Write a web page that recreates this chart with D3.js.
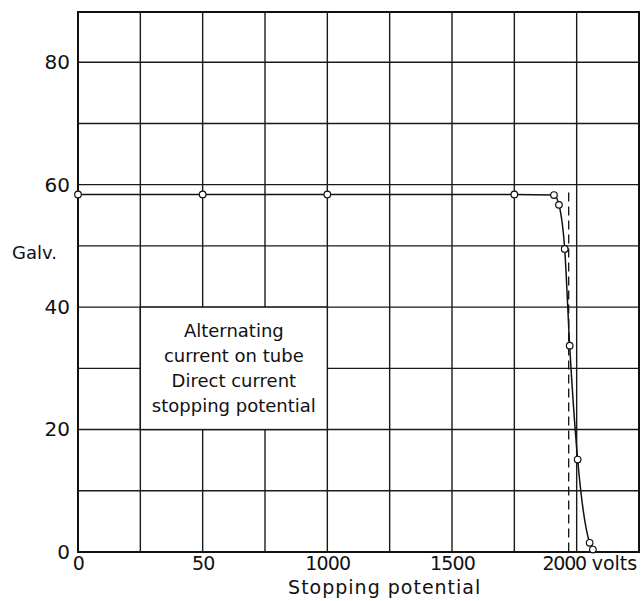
<!DOCTYPE html>
<html>
<head>
<meta charset="utf-8">
<script src="https://cdn.jsdelivr.net/npm/d3@7"></script>
<style>
    body { margin: 0; background: #fff; }
    svg text { font-family: "DejaVu Sans", sans-serif; fill: #111; }
</style>
</head>
<body>
<div id="chart"></div>
<script>
// Readings (volts, galvanometer deflection)
var volts = [0, 500, 1000, 1750, 1909, 1929, 1952, 1972, 2004, 2052, 2065];
var galv = [58.4, 58.4, 58.4, 58.4, 58.3, 56.7, 49.5, 33.7, 15.1, 1.5, 0.4];

// dashed marker for the stopping potential
var cutoffVolts = 1968;
var cutoffTop = 58.7;

var xTickValues = [0, 500, 1000, 1500, 2000];
var xTickLabels = ["0", "50", "1000", "1500", "2000"];
var yTickValues = [0, 20, 40, 60, 80];
var xGrid = [0, 250, 500, 750, 1000, 1250, 1500, 1750, 2000, 2250];
var yGrid = [0, 10, 20, 30, 40, 50, 60, 70, 80];

var legendLines = ["Alternating", "current on tube", "Direct current", "stopping potential"];
var legendBox = { v0: 250, v1: 1000, g0: 20, g1: 40 };

var width = 641, height = 601;
var margin = { top: 12, right: 1, bottom: 49, left: 78 };

var svg = d3.select("#chart").append("svg")
    .attr("width", width)
    .attr("height", height);

var x = d3.scaleLinear()
    .domain([0, 2250])
    .range([margin.left, width - margin.right - 1]);

var y = d3.scaleLinear()
    .domain([0, 88.2])
    .range([height - margin.bottom, margin.top]);

var g = svg.append("g");

// grid
g.append("g")
    .selectAll("line")
    .data(xGrid)
    .join("line")
    .attr("x1", function (d) { return x(d); })
    .attr("x2", function (d) { return x(d); })
    .attr("y1", y(0))
    .attr("y2", y(88.2))
    .attr("stroke", "#1a1a1a")
    .attr("stroke-width", 1.4);

g.append("g")
    .selectAll("line")
    .data(yGrid)
    .join("line")
    .attr("x1", x(0))
    .attr("x2", x(2250))
    .attr("y1", function (d) { return y(d); })
    .attr("y2", function (d) { return y(d); })
    .attr("stroke", "#1a1a1a")
    .attr("stroke-width", 1.4);

// frame
g.append("rect")
    .attr("x", x(0))
    .attr("y", y(88.2))
    .attr("width", x(2250) - x(0))
    .attr("height", y(0) - y(88.2))
    .attr("fill", "none")
    .attr("stroke", "#111")
    .attr("stroke-width", 2);

// legend box covers the grid
g.append("rect")
    .attr("x", x(legendBox.v0))
    .attr("y", y(legendBox.g1))
    .attr("width", x(legendBox.v1) - x(legendBox.v0))
    .attr("height", y(legendBox.g0) - y(legendBox.g1))
    .attr("fill", "#fff")
    .attr("stroke", "#1a1a1a")
    .attr("stroke-width", 1.4);

var legendX = (x(legendBox.v0) + x(legendBox.v1)) / 2;
g.append("g")
    .selectAll("text")
    .data(legendLines)
    .join("text")
    .attr("x", legendX)
    .attr("y", function (d, i) { return y(legendBox.g1) + 30 + i * 25; })
    .attr("text-anchor", "middle")
    .attr("font-size", 18)
    .text(function (d) { return d; });

// dashed stopping potential
g.append("line")
    .attr("x1", x(cutoffVolts))
    .attr("x2", x(cutoffVolts))
    .attr("y1", y(cutoffTop))
    .attr("y2", y(0))
    .attr("stroke", "#111")
    .attr("stroke-width", 1.3)
    .attr("stroke-dasharray", "9,5");

// curve
var pts = volts.map(function (v, i) { return [v, galv[i]]; });
var line = d3.line()
    .x(function (d) { return x(d[0]); })
    .y(function (d) { return y(d[1]); })
    .curve(d3.curveMonotoneX);

g.append("path")
    .datum(pts)
    .attr("d", line)
    .attr("fill", "none")
    .attr("stroke", "#111")
    .attr("stroke-width", 1.5);

g.append("g")
    .selectAll("circle")
    .data(pts)
    .join("circle")
    .attr("cx", function (d) { return x(d[0]); })
    .attr("cy", function (d) { return y(d[1]); })
    .attr("r", 3.3)
    .attr("fill", "#fff")
    .attr("stroke", "#111")
    .attr("stroke-width", 1.2);

// axes
var xAxis = d3.axisBottom(x)
    .tickValues(xTickValues)
    .tickSize(0)
    .tickFormat(function (d, i) { return xTickLabels[i]; });

var xg = svg.append("g")
    .attr("transform", "translate(0," + y(0) + ")")
    .call(xAxis);
xg.select(".domain").remove();
xg.selectAll("text")
    .attr("y", 18)
    .attr("dy", null)
    .attr("font-size", 19)
    .attr("letter-spacing", -0.8)
    .style("font-family", "DejaVu Sans, sans-serif")
    .attr("fill", "#111");
xg.selectAll(".tick")
    .filter(function (d) { return d === 2000; })
    .select("text")
    .attr("dx", -13)
    .attr("letter-spacing", -1.2);

svg.append("text")
    .attr("x", x(2000) + 15)
    .attr("y", y(0) + 18)
    .attr("font-size", 19)
    .text("volts");

var yAxis = d3.axisLeft(y)
    .tickValues(yTickValues)
    .tickSize(0)
    .tickPadding(8)
    .tickFormat(d3.format("d"));

var yg = svg.append("g")
    .attr("transform", "translate(" + x(0) + ",0)")
    .call(yAxis);
yg.select(".domain").remove();
yg.selectAll("text")
    .attr("font-size", 20)
    .style("font-family", "DejaVu Sans, sans-serif")
    .attr("fill", "#111");

svg.append("text")
    .attr("x", 12)
    .attr("y", y(50) + 13)
    .attr("font-size", 18)
    .text("Galv.");

svg.append("text")
    .attr("x", x(1230))
    .attr("y", height - 7)
    .attr("text-anchor", "middle")
    .attr("font-size", 19)
    .attr("letter-spacing", 1)
    .text("Stopping potential");
</script>
</body>
</html>
